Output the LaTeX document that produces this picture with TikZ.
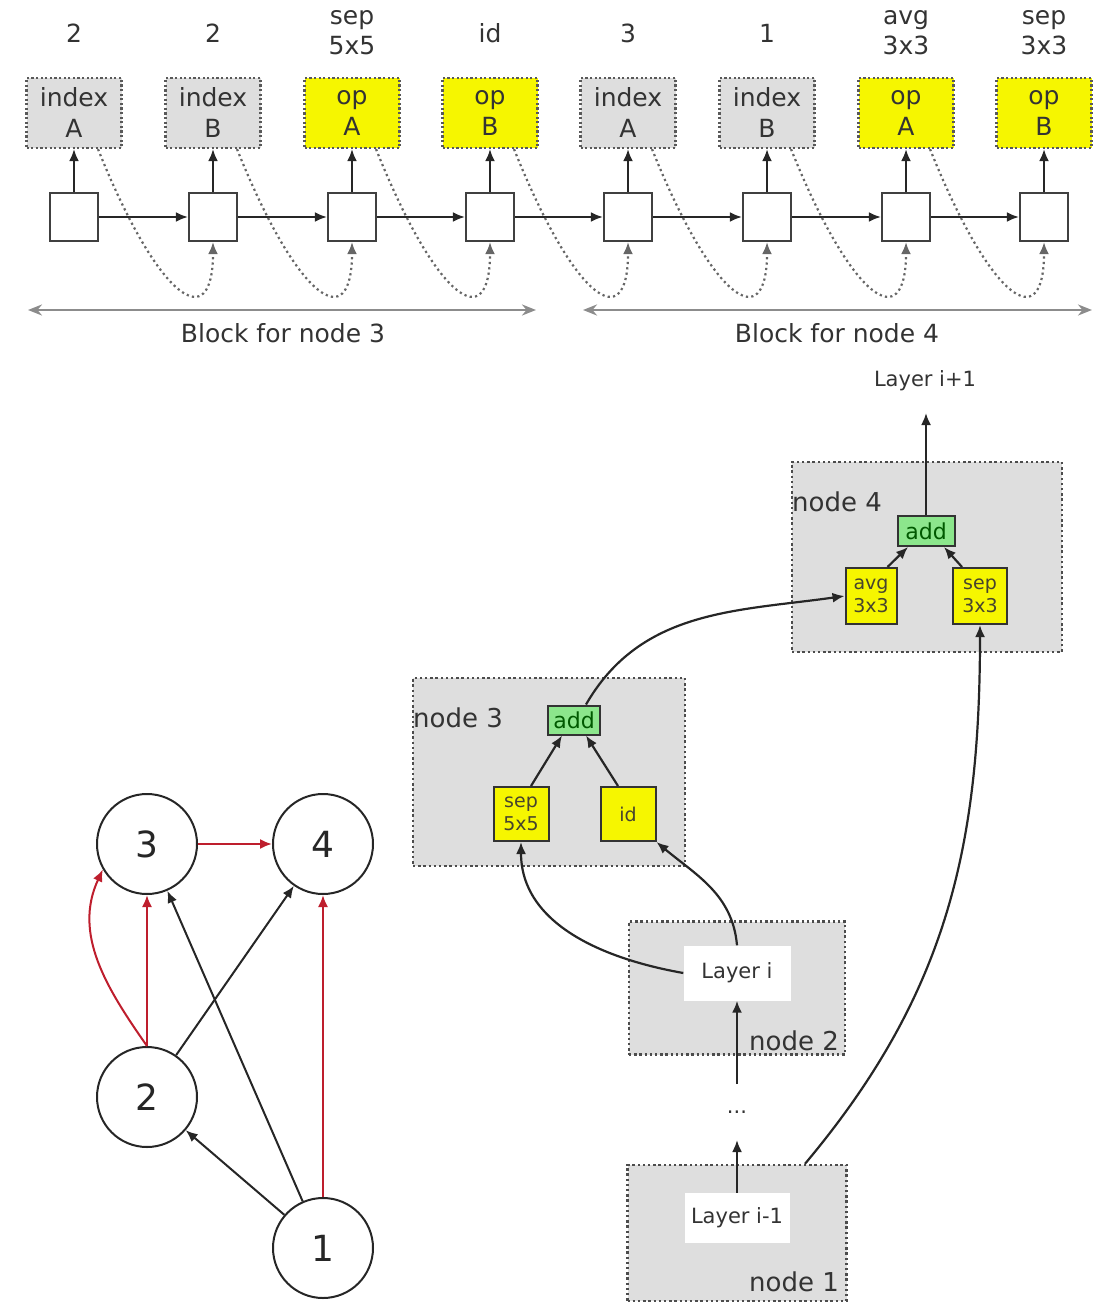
\documentclass[tikz,border=0pt]{standalone}
\usepackage{fontspec}
\setmainfont{DejaVu Sans}
\usetikzlibrary{arrows.meta}
\definecolor{lgreen}{RGB}{140,230,140}
\definecolor{myred}{RGB}{190,30,45}
\definecolor{boxgray}{RGB}{222,222,222}
\definecolor{myyellow}{RGB}{246,246,0}
\begin{document}
\begin{tikzpicture}[x=1pt,y=1pt,
  every node/.style={inner sep=0pt},
  sq/.style={draw=black!75, line width=2.2pt, fill=white, minimum width=48pt, minimum height=48pt},
  tbox/.style={draw=black!65, line width=2.2pt, dash pattern=on 2.2pt off 2.4pt, minimum width=95pt, minimum height=70pt, align=center, font=\fontsize{25}{31}\selectfont, text=black!80},
  idxbox/.style={tbox, fill=boxgray},
  opbox/.style={tbox, fill=myyellow},
  toplab/.style={align=center, font=\fontsize{25}{30}\selectfont, text=black!80},
  arr/.style={line width=2.2pt, draw=black!85, -{Latex[length=12pt,width=10pt]}},
  dotarr/.style={line width=2.2pt, draw=black!60, dash pattern=on 2.2pt off 3.2pt, -{Latex[length=12pt,width=10pt]}},
  blockarr/.style={line width=2.8pt, draw=black!45, {Stealth[length=14pt,width=11pt]}-{Stealth[length=14pt,width=11pt]}},
  nbox/.style={draw=black!70, line width=2.4pt, dash pattern=on 2.4pt off 2.8pt, fill=boxgray},
  nlab/.style={font=\fontsize{26}{30}\selectfont, text=black!80},
  layer/.style={fill=white, font=\fontsize{21}{25}\selectfont, text=black!80},
  addbox/.style={draw=black!80, line width=2pt, fill=lgreen, font=\fontsize{22}{24}\selectfont, text=green!35!black},
  ybox/.style={draw=black!80, line width=2pt, fill=myyellow, align=center, font=\fontsize{19}{23}\selectfont, text=black!65!olive},
  circ/.style={circle, draw=black!85, line width=2pt, fill=white, minimum size=100pt, font=\fontsize{36}{40}\selectfont, text=black!85},
  garr/.style={line width=2pt, draw=black!85, -{Latex[length=12pt,width=10pt]}},
  rarr/.style={line width=2pt, draw=myred, -{Latex[length=12pt,width=10pt]}},
]
\path[use as bounding box] (0,0) rectangle (1107,-1305);

% ---------- top sequence ----------
\foreach \i/\x/\kind/\t/\lab in {1/74/idxbox/{index\\A}/{2},
                                 2/213/idxbox/{index\\B}/{2},
                                 3/352/opbox/{op\\A}/{sep\\5x5},
                                 4/490/opbox/{op\\B}/{id},
                                 5/628/idxbox/{index\\A}/{3},
                                 6/767/idxbox/{index\\B}/{1},
                                 7/906/opbox/{op\\A}/{avg\\3x3},
                                 8/1044/opbox/{op\\B}/{sep\\3x3}}{
  \node[toplab] (lab\i) at (\x,-33) {\lab};
  \node[\kind] (b\i) at (\x,-113) {\t};
  \node[sq] (s\i) at (\x,-217) {};
  \draw[arr] (s\i.north) -- (b\i.south);
}
\foreach \i [evaluate=\i as \j using int(\i+1)] in {1,...,7}{
  \draw[arr] (s\i.east) -- (s\j.west);
  \draw[dotarr] ([xshift=24pt]b\i.south) .. controls ([xshift=85pt,yshift=-152pt]b\i.south) and ([yshift=-94pt]s\j.south) .. (s\j.south);
}

\coordinate (bl3) at (28,-310);
\coordinate (br3) at (536,-310);
\coordinate (bl4) at (583,-310);
\coordinate (br4) at (1092,-310);
\draw[blockarr] (bl3) -- (br3);
\draw[blockarr] (bl4) -- (br4);
\node[toplab] (blk3) at (283,-333) {Block for node 3};
\node[toplab] (blk4) at (837,-333) {Block for node 4};

% ---------- cell ----------
\node[nbox, minimum width=270pt, minimum height=190pt] (N4) at (927,-557) {};
\node[nlab, anchor=west] (N4l) at (792,-502) {node 4};
\node[addbox, minimum width=57pt, minimum height=30pt] (add4) at (926,-531) {add};
\node[ybox, minimum width=51pt, minimum height=56pt] (avg) at (871,-596) {avg\\3x3};
\node[ybox, minimum width=54pt, minimum height=56pt] (sep3) at (980,-596) {sep\\3x3};
\node[layer, fill=none] (Lp1) at (925,-381) {Layer i+1};
\coordinate (Lp1a) at (926,-413);

\node[nbox, minimum width=272pt, minimum height=188pt] (N3) at (549,-772) {};
\node[nlab, anchor=west] (N3l) at (413,-718) {node 3};
\node[addbox, minimum width=52pt, minimum height=29pt] (add3) at (574,-720) {add};
\node[ybox, minimum width=55pt, minimum height=54pt] (sep5) at (521,-814) {sep\\5x5};
\node[ybox, minimum width=55pt, minimum height=54pt] (idn) at (628,-814) {id};

\node[nbox, minimum width=216pt, minimum height=133pt] (N2) at (737,-988) {};
\node[layer, minimum width=107pt, minimum height=55pt] (Li) at (737,-973) {Layer i};
\node[nlab, anchor=base east] (N2l) at (839,-1050) {node 2};

\node[layer, fill=none] (dots) at (737,-1112) {...};

\node[nbox, minimum width=219pt, minimum height=136pt] (N1) at (737,-1233) {};
\node[layer, minimum width=105pt, minimum height=50pt] (Lim1) at (737,-1218) {Layer i-1};
\node[nlab, anchor=base east] (N1l) at (839,-1291) {node 1};

\draw[arr] (add4.north) -- (Lp1a);
\draw[arr] ([xshift=-10pt]avg.north east) -- ([xshift=-18pt]add4.south);
\draw[arr] ([xshift=10pt]sep3.north west) -- ([xshift=18pt]add4.south);
\draw[arr] ([xshift=10pt]sep5.north) -- ([xshift=-12pt]add3.south);
\draw[arr] ([xshift=-10pt]idn.north) -- ([xshift=12pt]add3.south);
\draw[arr] ([xshift=12pt]add3.north) to[out=60,in=188] (avg.west);
\draw[arr] (Li.north) to[out=95,in=-40] (idn.south east);
\draw[arr] (Li.west) to[out=170,in=-90] (sep5.south);
\draw[arr] (Lim1.north) -- (737,-1140);
\draw[arr] (737,-1084) -- (Li.south);
\draw[arr] ([xshift=68pt]N1.north) to[out=50,in=-90] (sep3.south);

% ---------- graph ----------
\node[circ] (c3) at (147,-844) {3};
\node[circ] (c4) at (323,-844) {4};
\node[circ] (c2) at (147,-1097) {2};
\node[circ] (c1) at (323,-1248) {1};
\draw[rarr] (c3) -- (c4);
\draw[rarr] (c2) -- (c3);
\draw[rarr] (c1) -- (c4);
\draw[rarr] (c2.north) to[out=125,in=245] (c3.210);
\draw[garr] (c2) -- (c4);
\draw[garr] (c1) -- (c3);
\draw[garr] (c1) -- (c2);
\end{tikzpicture}
\end{document}
